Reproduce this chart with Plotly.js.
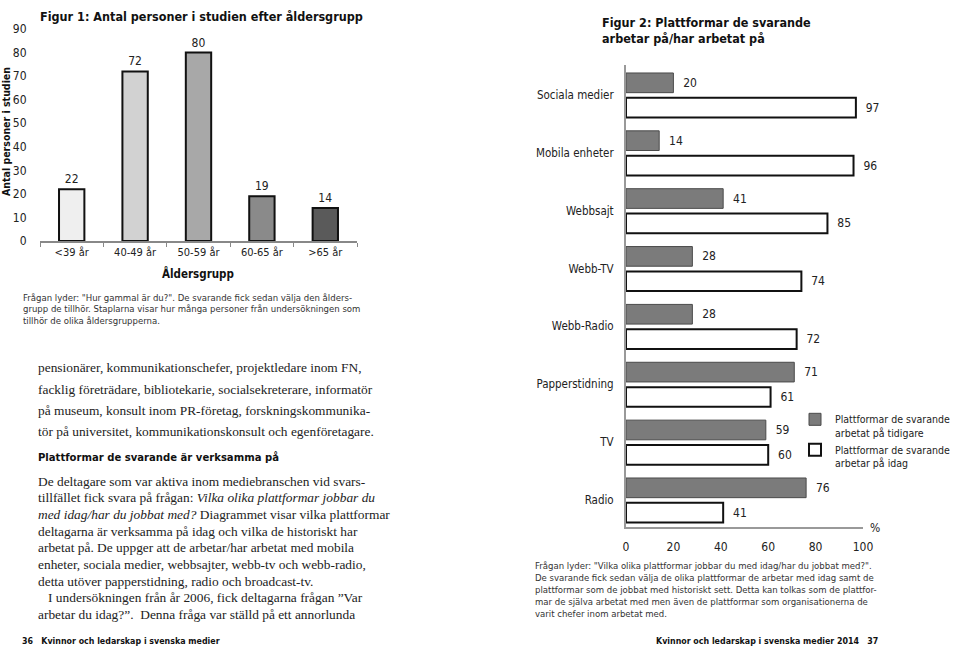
<!DOCTYPE html>
<html>
<head>
<meta charset="utf-8">
<script src="https://cdn.plot.ly/plotly-3.0.1.min.js"></script>
<style>html,body{margin:0;padding:0;background:#fff;}#chart{width:959px;height:647px;}</style>
</head>
<body>
<div id="chart"></div>
<script>
// ---- Data ----
const ageGroups = ['<39 år', '40-49 år', '50-59 år', '60-65 år', '>65 år'];
const ageCounts = [22, 72, 80, 19, 14];

const platforms = ['Sociala medier', 'Mobila enheter', 'Webbsajt', 'Webb-TV', 'Webb-Radio', 'Papperstidning', 'TV', 'Radio'];
const earlierPct = [20, 14, 41, 28, 28, 71, 59, 76];
const todayPct = [97, 96, 85, 74, 72, 61, 60, 41];
const seriesNames = ['Plattformar de svarande<br>arbetat på tidigare', 'Plattformar de svarande<br>arbetar på idag'];
const pctTicks = [0, 20, 40, 60, 80, 100];

// ---- Styles ----
const COND = '"DejaVu Sans Condensed", "Liberation Sans Narrow", "Arial Narrow", sans-serif';
const SERIF = '"Liberation Serif", "DejaVu Serif", serif';
const W = 959, H = 647;
const px = x => x / W;
const py = y => (H - y) / H;

const ageColors = ['#efefef', '#d2d2d2', '#a8a8a8', '#8a8a8a', '#5a5a5a'];

const traces = [
  {
    type: 'bar', x: ageGroups, y: ageCounts, xaxis: 'x', yaxis: 'y',
    width: 0.4, showlegend: false, hoverinfo: 'x+y',
    marker: {color: ageColors, line: {color: '#111', width: 2}},
    text: ageCounts.map(String), textposition: 'outside', cliponaxis: false,
    textfont: {family: COND, size: 12, color: '#222'}
  },
  {
    type: 'bar', orientation: 'h', y: platforms, x: earlierPct, xaxis: 'x2', yaxis: 'y2',
    name: seriesNames[0], width: 0.34, offset: -0.38,
    marker: {color: '#7b7b7b', line: {color: '#4a4a4a', width: 1}},
    texttemplate: '\u00a0\u00a0%{x}', textposition: 'outside', cliponaxis: false,
    textfont: {family: COND, size: 12, color: '#222'}
  },
  {
    type: 'bar', orientation: 'h', y: platforms, x: todayPct, xaxis: 'x2', yaxis: 'y2',
    name: seriesNames[1], width: 0.34, offset: 0.05,
    marker: {color: '#ffffff', line: {color: '#111', width: 2}},
    texttemplate: '\u00a0\u00a0%{x}', textposition: 'outside', cliponaxis: false,
    textfont: {family: COND, size: 12, color: '#222'}
  }
];

function ann(text, x, y, opts) {
  return Object.assign({
    text: text, x: px(x), y: py(y), xref: 'paper', yref: 'paper',
    showarrow: false, xanchor: 'left', yanchor: 'middle',
    font: {family: COND, size: 10, color: '#333'}
  }, opts || {});
}

const titleFont = {family: COND, size: 12.5, color: '#111', weight: 'bold'};
const bodyFont = {family: SERIF, size: 13.4, color: '#222'};
const footFont = {family: COND, size: 8.8, color: '#111', weight: 'bold'};

const bodyLines1 = [
  'pensionärer, kommunikationschefer, projektledare inom FN,',
  'facklig företrädare, bibliotekarie, socialsekreterare, informatör',
  'på museum, konsult inom PR-företag, forskningskommunika-',
  'tör på universitet, kommunikationskonsult och egenföretagare.'
];
const bodyLines2 = [
  'De deltagare som var aktiva inom mediebranschen vid svars-',
  'tillfället fick svara på frågan: <i>Vilka olika plattformar jobbar du</i>',
  '<i>med idag/har du jobbat med?</i> Diagrammet visar vilka plattformar',
  'deltagarna är verksamma på idag och vilka de historiskt har',
  'arbetat på. De uppger att de arbetar/har arbetat med mobila',
  'enheter, sociala medier, webbsajter, webb-tv och webb-radio,',
  'detta utöver papperstidning, radio och broadcast-tv.',
  '\u00a0\u00a0\u00a0I undersökningen från år 2006, fick deltagarna frågan ”Var',
  'arbetar du idag?”.  Denna fråga var ställd på ett annorlunda'
];
const cap1 = [
  'Frågan lyder: "Hur gammal är du?". De svarande fick sedan välja den ålders-',
  'grupp de tillhör. Staplarna visar hur många personer från undersökningen som',
  'tillhör de olika åldersgrupperna.'
];
const cap2 = [
  'Frågan lyder: "Vilka olika plattformar jobbar du med idag/har du jobbat med?".',
  'De svarande fick sedan välja de olika plattformar de arbetar med idag samt de',
  'plattformar som de jobbat med historiskt sett. Detta kan tolkas som de plattfor-',
  'mar de själva arbetat med men även de plattformar som organisationerna de',
  'varit chefer inom arbetat med.'
];

const annotations = [
  ann('Figur 1: Antal personer i studien efter åldersgrupp', 38, 16, {font: titleFont}),
  ann('Antal personer i studien', 6, 132, {xanchor: 'center', textangle: -90, font: {family: COND, size: 10.5, color: '#111', weight: 'bold'}}),
  ann('Åldersgrupp', 198, 273, {xanchor: 'center', font: {family: COND, size: 11.5, color: '#111', weight: 'bold'}}),
  ann('Figur 2: Plattformar de svarande<br>arbetar på/har arbetat på', 600, 31, {font: titleFont, align: 'left'}),
  ann('%', 875, 528, {xanchor: 'center', font: {family: COND, size: 12, color: '#222'}}),
  ann('Plattformar de svarande är verksamma på', 36, 457, {font: {family: COND, size: 11.2, color: '#111', weight: 'bold'}}),
  ann('36\u00a0\u00a0\u00a0Kvinnor och ledarskap i svenska medier', 20, 641, {font: footFont}),
  ann('Kvinnor och ledarskap i svenska medier 2014\u00a0\u00a0\u00a037', 880, 641, {xanchor: 'right', font: footFont})
];
bodyLines1.forEach((t, i) => annotations.push(ann(t, 36, 368 + i * 21.3, {font: bodyFont})));
bodyLines2.forEach((t, i) => annotations.push(ann(t, 36, 481 + i * 16.7, {font: bodyFont})));
cap1.forEach((t, i) => annotations.push(ann(t, 21, 297 + i * 11.8, {font: {family: COND, size: 9.5, color: '#333'}})));
cap2.forEach((t, i) => annotations.push(ann(t, 533, 565 + i * 12.2, {font: {family: COND, size: 9.5, color: '#333'}})));

const layout = {
  width: W, height: H,
  margin: {l: 0, r: 0, t: 0, b: 0, autoexpand: false},
  paper_bgcolor: '#ffffff', plot_bgcolor: 'rgba(0,0,0,0)',
  font: {family: COND, size: 12, color: '#222'},
  showlegend: true,
  legend: {
    x: px(795), y: py(406), xanchor: 'left', yanchor: 'top',
    bgcolor: 'rgba(0,0,0,0)', borderwidth: 0, valign: 'top',
    font: {family: COND, size: 10.5, color: '#222'},
    tracegroupgap: 4, itemclick: false
  },
  xaxis: {
    domain: [px(40), px(357)], anchor: 'y', type: 'category',
    range: [-0.5, 4.5], showgrid: false, zeroline: false,
    showline: true, linecolor: '#888', linewidth: 1.5,
    ticks: 'outside', tickson: 'boundaries', ticklen: 4, tickcolor: '#888', tickwidth: 1.2,
    tickfont: {family: COND, size: 11, color: '#222'}, fixedrange: true
  },
  yaxis: {
    domain: [py(241), py(29)], anchor: 'x', range: [0, 90], dtick: 10,
    showgrid: false, zeroline: false, showline: false,
    ticks: 'outside', ticklen: 10, tickcolor: 'rgba(0,0,0,0)',
    tickfont: {family: COND, size: 12, color: '#222'}, fixedrange: true
  },
  xaxis2: {
    domain: [px(626), px(863)], anchor: 'y2', range: [0, 100],
    tickvals: pctTicks, showgrid: false, zeroline: false,
    showline: true, linecolor: '#999', linewidth: 2,
    ticks: 'outside', ticklen: 8, tickcolor: 'rgba(0,0,0,0)',
    tickfont: {family: COND, size: 12, color: '#222'}, fixedrange: true
  },
  yaxis2: {
    domain: [py(527), py(65)], anchor: 'x2', type: 'category',
    categoryorder: 'array', categoryarray: platforms,
    range: [7.467, -0.518], showgrid: false, zeroline: false,
    showline: true, linecolor: '#999', linewidth: 2,
    ticks: 'outside', ticklen: 8, tickcolor: 'rgba(0,0,0,0)',
    tickfont: {family: COND, size: 11.5, color: '#222'}, fixedrange: true
  },
  annotations: annotations
};

Plotly.newPlot('chart', traces, layout, {displayModeBar: false});
</script>
</body>
</html>
